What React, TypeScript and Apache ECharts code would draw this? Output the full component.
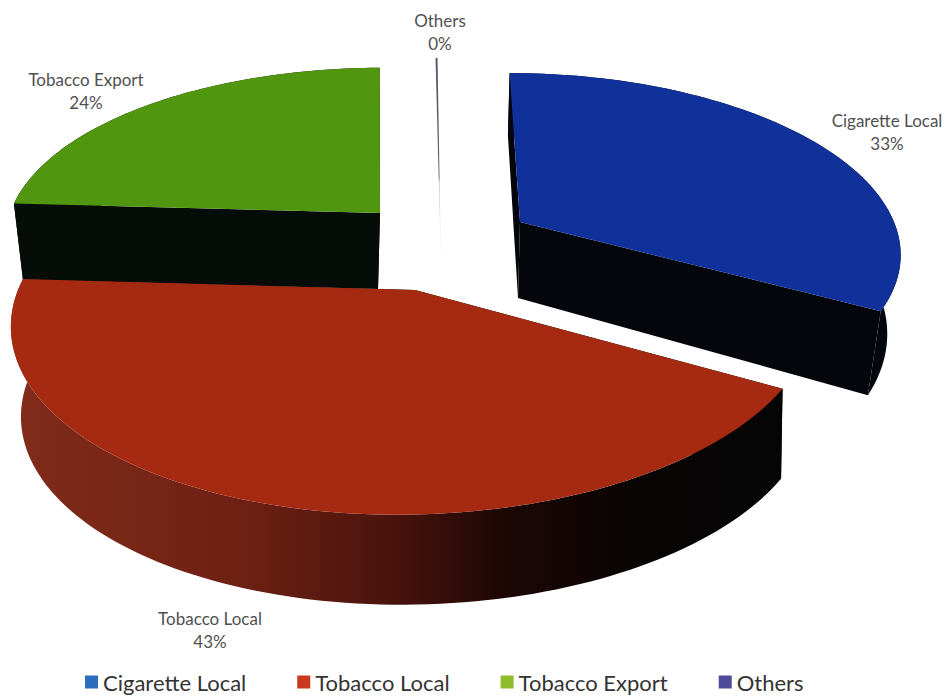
import React, { useEffect, useRef } from "react";
import * as echarts from "echarts";

const categories = ["Cigarette Local", "Tobacco Local", "Tobacco Export", "Others"];
const shares = [33, 43, 24, 0.1];
const legendColors = ["#2a6ebd", "#c8391f", "#8fbc2a", "#4f4a9c"];

type Geo = {
  cx: number; cy: number; a: number; b: number; k: number; sx: number;
  dx: number; dy: number; fa: number; fb: number;
  top: string; wall: any; cut: any;
  label: [number, number];
};

const lin = (stops: [number, string][], vertical = false) =>
  new echarts.graphic.LinearGradient(0, 0, vertical ? 0 : 1, vertical ? 1 : 0,
    stops.map(([offset, color]) => ({ offset, color })));

const geos: Geo[] = [
  { cx: 520, cy: 222, a: 374, b: 172, k: 0.155, sx: 12, dx: -2, dy: 76, fa: 0.97, fb: 1.09, top: "#10309a", wall: "#05070f", cut: "#04060c", label: [887, 132] },
  { cx: 415, cy: 290, a: 397, b: 191, k: 0.15, sx: -15, dx: 4, dy: 90, fa: 0.985, fb: 1.0, top: "#a62a12",
    wall: lin([[0, "#822c1a"], [0.3, "#6e2013"], [0.5, "#48130c"], [0.64, "#1c0705"], [0.82, "#080404"], [1, "#050505"]]),
    cut: "#050505", label: [210, 630] },
  { cx: 380, cy: 213, a: 370, b: 167, k: 0.15, sx: -2, dx: -2, dy: 76, fa: 0.97, fb: 0.985, top: "#50960f", wall: "#060c08", cut: "#060c08", label: [86, 91] },
  { cx: 441, cy: 265, a: 365, b: 238, k: 0.15, sx: 4, dx: 0, dy: 0, fa: 1, fb: 1, top: "#cccccc",
    wall: "#cccccc",
    cut: "#cccccc", label: [440, 32] },
];

const total = shares.reduce((s, v) => s + v, 0);
const STEP = (2 * Math.PI) / 240;

function point(g: Geo, t: number, bottom: boolean): number[] {
  const p = 1 / (1 + g.k * Math.cos(t));
  const fa = bottom ? g.fa : 1;
  const fb = bottom ? g.fb : 1;
  const x = g.cx + (bottom ? g.dx : 0) + fa * (g.a * Math.sin(t) - g.sx * Math.cos(t)) * p;
  const y = g.cy + (bottom ? g.dy : 0) - fb * g.b * Math.cos(t) * p;
  return [x, y];
}

function arc(g: Geo, t0: number, t1: number, bottom: boolean): number[][] {
  const n = Math.max(2, Math.ceil((t1 - t0) / STEP));
  const pts: number[][] = [];
  for (let i = 0; i <= n; i++) pts.push(point(g, t0 + ((t1 - t0) * i) / n, bottom));
  return pts;
}

const makeRenderItem = (index: number) => (_p: any, api: any) => {
  const value = api.value(0);
  const before = shares.slice(0, index).reduce((s, v) => s + v, 0);
  const t0 = (before / total) * 2 * Math.PI;
  const t1 = t0 + (value / total) * 2 * Math.PI;
  const g = geos[index];
  const c0 = [g.cx, g.cy];
  const c1 = [g.cx + g.dx, g.cy + g.dy];
  const topArc = arc(g, t0, t1, false);
  const botArc = arc(g, t0, t1, true);
  const poly = (points: number[][], fill: any) => ({
    type: "polygon", shape: { points }, style: { fill, stroke: null },
  });
  const children: any[] = [];
  if (index === 3) {
    children.push({
      type: "polygon", shape: { points: [c0, ...topArc] },
      style: { fill: lin([[0, "#55556c"], [0.58, "#5c5c70"], [0.6, "#c4c4c8"], [1, "#f2f2f2"]], true) },
    });
  } else {
    children.push(poly([c0, c1, botArc[botArc.length - 1], topArc[topArc.length - 1]], g.cut));
    children.push(poly([c0, c1, botArc[0], topArc[0]], g.cut));
    children.push(poly([...topArc, ...botArc.slice().reverse()], g.wall));
    children.push(poly([c0, ...topArc], g.top));
  }
  children.push({
    type: "text", x: g.label[0], y: g.label[1],
    style: {
      text: `${categories[index]}\n${Math.round((value / total) * 100)}%`,
      fill: "#505050", font: "17px Lato", lineHeight: 23,
      align: "center", verticalAlign: "middle",
    },
  });
  return { type: "group", children };
};

const drawOrder = [2, 3, 0, 1];

export default function App() {
  const ref = useRef<HTMLDivElement>(null);
  useEffect(() => {
    document.body.style.margin = "0";
    const chart = echarts.init(ref.current!, undefined, { renderer: "svg" });
    chart.setOption({
      animation: false,
      backgroundColor: "#ffffff",
      legend: {
        left: 85, top: 671, padding: 0,
        itemWidth: 13, itemHeight: 13, itemGap: 51,
        icon: "rect",
        data: categories,
        textStyle: { fontFamily: "Lato", fontSize: 22, color: "#333333", padding: [0, 0, 0, 0] },
      },
      series: drawOrder.map((i, z) => ({
        type: "custom",
        name: categories[i],
        coordinateSystem: "none",
        z: z + 2,
        itemStyle: { color: legendColors[i] },
        data: [[shares[i]]],
        renderItem: makeRenderItem(i),
      })),
    });
    return () => chart.dispose();
  }, []);
  return <div ref={ref} style={{ position: "fixed", left: 0, top: 0, width: 947, height: 699 }} />;
}
